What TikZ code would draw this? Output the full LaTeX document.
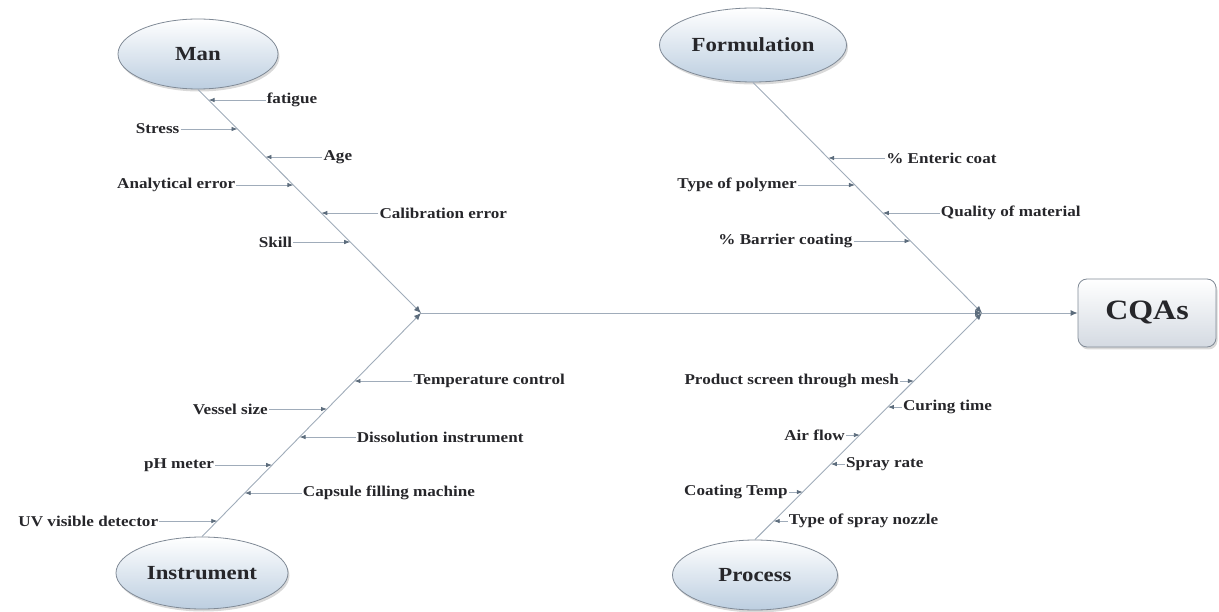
\documentclass[tikz,border=0pt]{standalone}
\usepackage{fontspec}
\setmainfont{Liberation Serif}[FakeStretch=1.14]
\usepackage{xcolor}
\definecolor{fbline}{RGB}{160,172,186}
\definecolor{fbtip}{RGB}{92,108,124}
\definecolor{fbtext}{RGB}{38,38,42}
\definecolor{fbedge}{RGB}{128,138,150}
\definecolor{fbfill}{RGB}{188,206,224}
\definecolor{fbbox}{RGB}{212,218,226}
\usetikzlibrary{arrows.meta, positioning, shapes.geometric, shadows}

\begin{document}
\begin{tikzpicture}[
  x=1pt, y=-1pt,
  every node/.style={text=fbtext},
  cause/.style={ellipse, draw=fbedge, line width=0.8pt, top color=white, bottom color=fbfill,
    inner sep=0pt, font=\fontsize{20}{24}\selectfont\bfseries,
    drop shadow={shadow xshift=1.5pt, shadow yshift=-2.5pt, opacity=0.3}},
  effect/.style={rectangle, rounded corners=9pt, draw=fbedge, line width=0.8pt, top color=white,
    bottom color=fbbox, minimum width=138pt, minimum height=68pt,
    font=\fontsize{28}{32}\selectfont\bfseries,
    drop shadow={shadow xshift=1.5pt, shadow yshift=-2.5pt, opacity=0.3}},
  bone/.style={draw=fbline, line width=0.9pt},
  tip/.style={-{Latex[length=7pt, width=6pt, color=fbtip]}},
  rib/.style={draw=fbline, line width=0.8pt, -{Latex[length=6pt, width=4.5pt, color=fbtip]}},
  ribtext/.style={inner sep=1pt, font=\fontsize{15}{18}\selectfont\bfseries}
]
  \useasboundingbox (0,0) rectangle (1219,612);

  % causes and effect
  \node[cause, minimum width=160pt, minimum height=70pt] (man) at (198,54) {Man};
  \node[cause, minimum width=187pt, minimum height=74pt] (form) at (753,45) {Formulation};
  \node[cause, minimum width=172pt, minimum height=72pt] (instr) at (202,573) {Instrument};
  \node[cause, minimum width=165pt, minimum height=70pt] (proc) at (755,575) {Process};
  \node[effect] (cqas) at (1147,313) {CQAs};

  \coordinate (jl) at (421,313);
  \coordinate (jr) at (982,313);

  % bones
  \draw[bone, tip] (man.south) -- (jl);
  \draw[bone, tip] (instr.north) -- (jl);
  \draw[bone, tip] (form.south) -- (jr);
  \draw[bone, tip] (proc.north) -- (jr);
  \draw[bone, tip] (jl) -- (jr);
  \draw[bone, tip] (jr) -- (cqas);

  % sub-causes
  \foreach \txt/\yy/\dx/\side in {fatigue/100/57/west, Stress/129/-57/east, Age/157/57/west,
      Analytical error/185/-57/east, Calibration error/213/57/west, Skill/242/-57/east} {
    \coordinate (t) at (intersection of man.south--jl and 0,\yy--1,\yy);
    \node[ribtext, anchor=\side] (lab) at ([xshift=\dx]t) {\txt};
    \draw[rib] (lab.\side) -- (t);
  }
  \foreach \txt/\yy/\dx/\side in {\% Enteric coat/158/57/west, Type of polymer/185/-57/east,
      Quality of material/213/57/west, \% Barrier coating/241/-57/east} {
    \coordinate (t) at (intersection of form.south--jr and 0,\yy--1,\yy);
    \node[ribtext, anchor=\side] (lab) at ([xshift=\dx]t) {\txt};
    \draw[rib] (lab.\side) -- (t);
  }
  \foreach \txt/\yy/\dx/\side in {Temperature control/381/58/west, Vessel size/409/-58/east,
      Dissolution instrument/437/56/west, pH meter/465/-57/east,
      Capsule filling machine/493/57/west, UV visible detector/521/-58/east} {
    \coordinate (t) at (intersection of instr.north--jl and 0,\yy--1,\yy);
    \node[ribtext, anchor=\side] (lab) at ([xshift=\dx]t) {\txt};
    \draw[rib] (lab.\side) -- (t);
  }
  \foreach \txt/\yy/\dx/\side in {Product screen through mesh/381/-14/east, Curing time/407/14/west,
      Air flow/435/-14/east, Spray rate/464/14/west, Coating Temp/492/-14/east,
      Type of spray nozzle/521/14/west} {
    \coordinate (t) at (intersection of proc.north--jr and 0,\yy--1,\yy);
    \node[ribtext, anchor=\side] (lab) at ([xshift=\dx]t) {\txt};
    \draw[rib] (lab.\side) -- (t);
  }
\end{tikzpicture}
\end{document}
